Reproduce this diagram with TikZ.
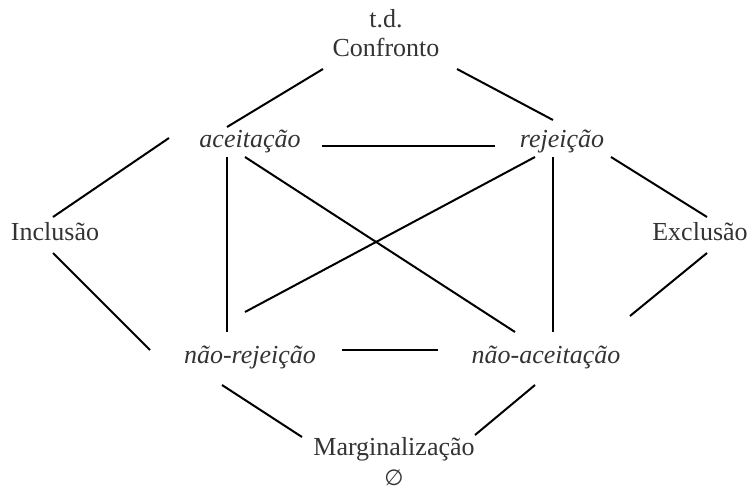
\documentclass[tikz,border=0pt]{standalone}
\usepackage{fontspec}
\setmainfont{Liberation Serif}
\newfontfamily\symfont{DejaVu Sans}
\usetikzlibrary{calc}
\definecolor{txt}{HTML}{333333}
\begin{document}
\begin{tikzpicture}[x=1pt,y=-1pt,
  lbl/.style={anchor=base,inner sep=0pt,text=txt,font=\fontsize{26}{30}\selectfont},
  ilbl/.style={lbl,font=\fontsize{26}{30}\selectfont\itshape},
  edge/.style={line width=2pt,black}]
\useasboundingbox (0,0) rectangle (750,493);
\node[lbl] (td) at (386,27) {t.d.};
\node[lbl] (conf) at (386,56) {Confronto};
\node[ilbl] (acc) at (250,147) {aceitação};
\node[ilbl] (rej) at (562,147) {rejeição};
\node[lbl] (inc) at (55,240) {Inclusão};
\node[lbl] (exc) at (700,240) {Exclusão};
\node[ilbl] (nrej) at (250,363) {não-rejeição};
\node[ilbl] (nac) at (546,363) {não-aceitação};
\node[lbl] (marg) at (394,455) {Marginalização};
\node[lbl,font=\symfont\fontsize{22}{26}\selectfont] (empty) at (394,485) {∅};
\draw[edge] ($(conf.base)+(-63,13)$) -- ($(acc.base)+(-23,-20)$);
\draw[edge] ($(conf.base)+(71,13)$) -- ($(rej.base)+(-9,-27)$);
\draw[edge] ($(acc.base)+(72,-1)$) -- ($(rej.base)+(-67,-1)$);
\draw[edge] ($(inc.base)+(-2,-23)$) -- ($(acc.base)+(-81,-9)$);
\draw[edge] ($(inc.base)+(-2,13)$) -- ($(nrej.base)+(-100,-13)$);
\draw[edge] ($(rej.base)+(49,10)$) -- ($(exc.base)+(7,-23)$);
\draw[edge] ($(exc.base)+(7,13)$) -- ($(nac.base)+(84,-47)$);
\draw[edge] ($(acc.base)+(-23,10)$) -- ($(nrej.base)+(-23,-31)$);
\draw[edge] ($(rej.base)+(-9,10)$) -- ($(nac.base)+(7,-31)$);
\draw[edge] ($(acc.base)+(-5,10)$) -- ($(nac.base)+(-31,-31)$);
\draw[edge] ($(rej.base)+(-27,10)$) -- ($(nrej.base)+(-5,-51)$);
\draw[edge] ($(nrej.base)+(92,-13)$) -- ($(nac.base)+(-108,-13)$);
\draw[edge] ($(nrej.base)+(-28,22)$) -- ($(marg.base)+(-92,-18)$);
\draw[edge] ($(nac.base)+(-11,22)$) -- ($(marg.base)+(81,-20)$);
\end{tikzpicture}
\end{document}
